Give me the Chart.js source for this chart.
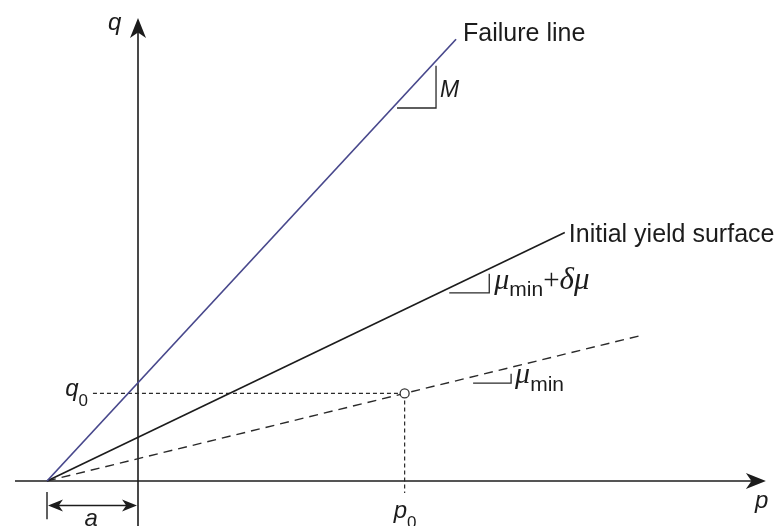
<!DOCTYPE html>
<html>
<head>
<meta charset="utf-8">
<script src="https://cdn.jsdelivr.net/npm/chart.js@4/dist/chart.umd.min.js"></script>
<style>
  html, body { margin: 0; padding: 0; background: #ffffff; }
  #wrap { width: 774px; height: 526px; position: relative; }
</style>
</head>
<body>
<div id="wrap"><canvas id="c"></canvas></div>
<script>
// p-q stress plane: failure line, initial yield surface and the mu_min line,
// all passing through the point p = -a on the p axis.
const a = 1.0;                       // offset of the common intercept left of the q axis
const p0 = 2.93;                     // initial mean stress
const lineNames = ['Failure line', 'Initial yield surface', 'mu_min'];
const slopes = [1.08, 0.48, 0.245];  // M, mu_min + delta mu, mu_min
const lineEndP = [3.495, 4.69, 5.56];
const q0 = slopes[2] * (p0 + a);     // initial state lies on the mu_min line

// visible window of the diagram
const pRange = [-1.5165, 6.989];
const qRange = [-0.4945, 5.2857];

const INK = '#1c1c1c';
const FAIL = '#48488c';

function lineThrough(i) {
  return [{ x: -a, y: 0 }, { x: lineEndP[i], y: slopes[i] * (lineEndP[i] + a) }];
}

function arrowHead(ctx, tx, ty, dx, dy, len, half) {
  const nx = -dy, ny = dx;
  const bx = tx - dx * len, by = ty - dy * len;
  const mx = tx - dx * len * 0.72, my = ty - dy * len * 0.72;
  ctx.beginPath();
  ctx.moveTo(tx, ty);
  ctx.lineTo(bx + nx * half, by + ny * half);
  ctx.lineTo(mx, my);
  ctx.lineTo(bx - nx * half, by - ny * half);
  ctx.closePath();
  ctx.fill();
}

function seg(ctx, x1, y1, x2, y2) {
  ctx.beginPath();
  ctx.moveTo(x1, y1);
  ctx.lineTo(x2, y2);
  ctx.stroke();
}

// draws a run of text pieces [text, font, dy] left to right
function runs(ctx, x, y, parts) {
  let cx = x;
  for (const [t, font, dy] of parts) {
    ctx.font = font;
    ctx.fillText(t, cx, y + (dy || 0));
    cx += ctx.measureText(t).width;
  }
}

const SANS = '"Liberation Sans", Arial, sans-serif';
const SERIF = '"Liberation Serif", "Times New Roman", serif';

const diagram = {
  id: 'diagram',
  beforeDatasetsDraw(chart) {
    const { ctx, scales: { x, y } } = chart;
    const X = v => x.getPixelForValue(v), Y = v => y.getPixelForValue(v);
    const ox = X(0), oy = Y(0);
    ctx.save();
    ctx.strokeStyle = INK;
    ctx.fillStyle = INK;
    ctx.lineWidth = 1.6;

    // p axis
    const pTip = X(6.9);
    seg(ctx, X(-1.352), oy, pTip - 12, oy);
    arrowHead(ctx, pTip, oy, 1, 0, 20, 8);
    // q axis
    const qTip = Y(5.088);
    seg(ctx, ox, Y(qRange[0]), ox, qTip + 12);
    arrowHead(ctx, ox, qTip, 0, -1, 20, 8);

    // dimension of a
    const xa = X(-a), yd = Y(-0.27);
    ctx.lineWidth = 1.4;
    seg(ctx, xa, Y(-0.12), xa, Y(-0.42));
    seg(ctx, xa + 8, yd, ox - 8, yd);
    arrowHead(ctx, xa + 1, yd, -1, 0, 15, 6);
    arrowHead(ctx, ox - 1, yd, 1, 0, 15, 6);

    // slope indicators: [corner p, corner q, run in px, line index]
    ctx.lineWidth = 1.3;
    ctx.strokeStyle = '#2a2a2a';
    const tri = [[3.275, 4.099, 39, 0], [3.86, 2.067, 40, 1], [4.10, 1.076, 38, 2]];
    for (const [pc, qc, run, i] of tri) {
      const cx = X(pc), cy = Y(qc);
      ctx.beginPath();
      ctx.moveTo(cx - run, cy);
      ctx.lineTo(cx, cy);
      ctx.lineTo(cx, cy - run * slopes[i]);
      ctx.stroke();
    }
    ctx.restore();
  },
  afterDatasetsDraw(chart) {
    const { ctx, scales: { x, y } } = chart;
    const X = v => x.getPixelForValue(v), Y = v => y.getPixelForValue(v);
    ctx.save();
    ctx.fillStyle = INK;
    ctx.textBaseline = 'alphabetic';
    ctx.textAlign = 'left';

    // line names at the upper ends
    const e0 = lineThrough(0)[1], e1 = lineThrough(1)[1];
    ctx.font = '25px ' + SANS;
    ctx.fillText(lineNames[0], X(e0.x) + 7, Y(e0.y) + 2);
    ctx.fillText(lineNames[1], X(e1.x) + 4, Y(e1.y) + 10);

    // slope labels
    ctx.font = 'italic 23px ' + SANS;
    ctx.fillText('M', X(3.275) + 4, Y(4.099) - 11);
    runs(ctx, X(3.86) + 5, Y(2.067) - 4, [
      ['\u03BC', 'italic 30px ' + SERIF, 0],
      ['min', '21px ' + SANS, 7],
      ['+', '29px ' + SERIF, 0],
      ['\u03B4\u03BC', 'italic 31px ' + SERIF, 0]
    ]);
    runs(ctx, X(4.10) + 4, Y(1.076) + 0, [
      ['\u03BC', 'italic 30px ' + SERIF, 0],
      ['min', '21px ' + SANS, 8]
    ]);

    // axis names and marked values
    ctx.font = 'italic 24px ' + SANS;
    ctx.fillText('q', X(0) - 30, Y(5.088) + 12);
    ctx.fillText('p', X(6.9) - 11, Y(0) + 27);
    runs(ctx, X(-0.8), Y(q0) + 3, [['q', 'italic 24px ' + SANS, 0], ['0', '17px ' + SANS, 10]]);
    runs(ctx, X(p0) - 11, Y(0) + 37, [['p', 'italic 24px ' + SANS, 0], ['0', '17px ' + SANS, 10]]);
    ctx.font = 'italic 24px ' + SANS;
    ctx.fillText('a', X(-a / 2) - 8, Y(0) + 45);
    ctx.restore();
  }
};

new Chart(document.getElementById('c'), {
  type: 'scatter',
  data: {
    datasets: [
      { // initial stress state
        data: [{ x: p0, y: q0 }],
        pointRadius: 4.5, pointBackgroundColor: '#ffffff',
        pointBorderColor: '#333333', pointBorderWidth: 1.3, showLine: false
      },
      { data: lineThrough(0), showLine: true, borderColor: FAIL, borderWidth: 1.7, pointRadius: 0 },
      { data: lineThrough(1), showLine: true, borderColor: INK, borderWidth: 1.6, pointRadius: 0 },
      { data: lineThrough(2), showLine: true, borderColor: '#2a2a2a', borderWidth: 1.4,
        borderDash: [9, 6], pointRadius: 0 },
      { // guide to q0
        data: [{ x: -0.495, y: q0 }, { x: p0, y: q0 }], showLine: true,
        borderColor: '#2a2a2a', borderWidth: 1.2, borderDash: [4, 3], pointRadius: 0
      },
      { // guide to p0
        data: [{ x: p0, y: q0 }, { x: p0, y: -0.132 }], showLine: true,
        borderColor: '#2a2a2a', borderWidth: 1.2, borderDash: [4, 3], pointRadius: 0
      }
    ]
  },
  options: {
    responsive: true,
    maintainAspectRatio: false,
    animation: false,
    layout: { padding: 0, autoPadding: false },
    plugins: { legend: { display: false }, tooltip: { enabled: false } },
    scales: {
      x: { type: 'linear', min: pRange[0], max: pRange[1], display: false },
      y: { type: 'linear', min: qRange[0], max: qRange[1], display: false }
    }
  },
  plugins: [diagram]
});
</script>
</body>
</html>
